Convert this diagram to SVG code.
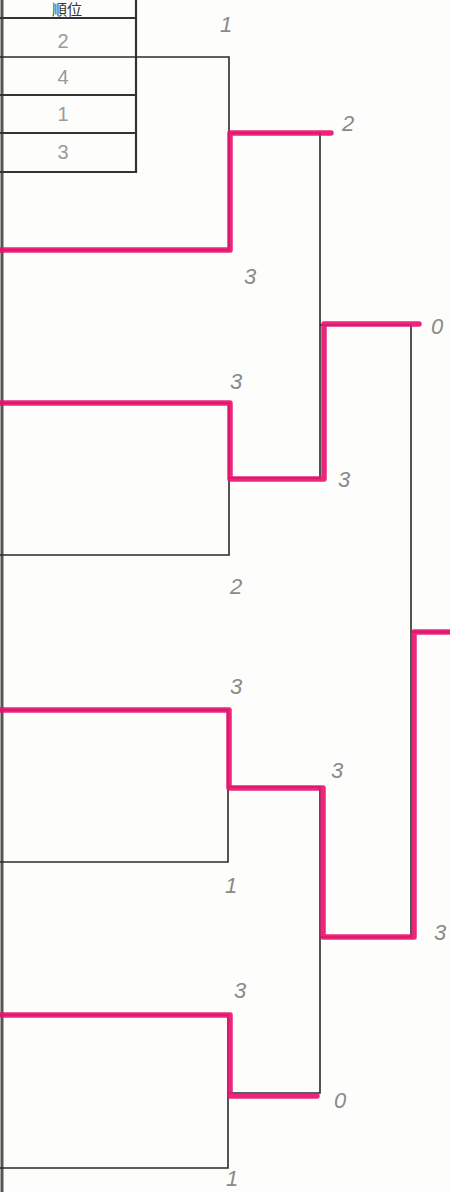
<svg xmlns="http://www.w3.org/2000/svg" width="450" height="1192" viewBox="0 0 450 1192">
<style>
.bg{fill:#fdfdfb}
.ln{fill:none;stroke:#2a2a2a;stroke-width:1.6}
.tb{fill:none;stroke:#333;stroke-width:2.2}
.pk{fill:none;stroke:#ea1470;stroke-width:5.5;stroke-linejoin:round;stroke-linecap:round;opacity:0.92}
.sc{font-family:"Liberation Sans","DejaVu Sans",sans-serif;font-size:22px;fill:#8a8a8a;font-style:italic;text-anchor:middle}
.rk{font-family:"Liberation Sans","DejaVu Sans",sans-serif;font-size:20px;fill:#9a9a9a;text-anchor:middle}
.hd{font-family:"Noto Sans CJK JP","Noto Sans CJK SC",sans-serif;font-size:15px;fill:#333;text-anchor:middle}
</style>
<rect class="bg" x="0" y="0" width="450" height="1192"/>
<line x1="2" y1="0" x2="2" y2="1192" stroke="#555" stroke-width="3"/>
<g id="rank-table">
<text class="hd" x="67" y="15">順位</text>
<line class="tb" x1="0" y1="18" x2="137" y2="18"/>
<line class="tb" x1="0" y1="95" x2="137" y2="95"/>
<line class="tb" x1="0" y1="133" x2="137" y2="133"/>
<line class="tb" x1="0" y1="172" x2="137" y2="172" stroke-width="3"/>
<line class="tb" x1="136" y1="0" x2="136" y2="173"/>
<text class="rk" x="63" y="48">2</text>
<text class="rk" x="63" y="84">4</text>
<text class="rk" x="63" y="121">1</text>
<text class="rk" x="63" y="159">3</text>
</g>
<g id="connectors">
<path class="ln" d="M0 57H229V250H0"/>
<path class="ln" d="M229 133H320V478H229"/>
<path class="ln" d="M0 403H229V555H0"/>
<path class="ln" d="M320 325H411V937H320"/>
<path class="ln" d="M0 710H228V862H0"/>
<path class="ln" d="M228 787H320V1093H228"/>
<path class="ln" d="M0 1015H228V1168H0"/>
<path class="ln" d="M411 632H450"/>
<path class="pk" d="M1 250H230V133H331"/>
<path class="pk" d="M1 403H230V479H324V324H419"/>
<path class="pk" d="M1 710H229V788H323V937H414V632H450"/>
<path class="pk" d="M1 1015H230V1096H317"/>
</g>
<g id="scores">
<text class="sc" x="226" y="32">1</text>
<text class="sc" x="250" y="284">3</text>
<text class="sc" x="348" y="131">2</text>
<text class="sc" x="236" y="389">3</text>
<text class="sc" x="236" y="594">2</text>
<text class="sc" x="344" y="487">3</text>
<text class="sc" x="437" y="334">0</text>
<text class="sc" x="236" y="694">3</text>
<text class="sc" x="231" y="893">1</text>
<text class="sc" x="337" y="778">3</text>
<text class="sc" x="440" y="940">3</text>
<text class="sc" x="240" y="998">3</text>
<text class="sc" x="232" y="1186" font-size="16">1</text>
<text class="sc" x="340" y="1108">0</text>
</g>
</svg>
